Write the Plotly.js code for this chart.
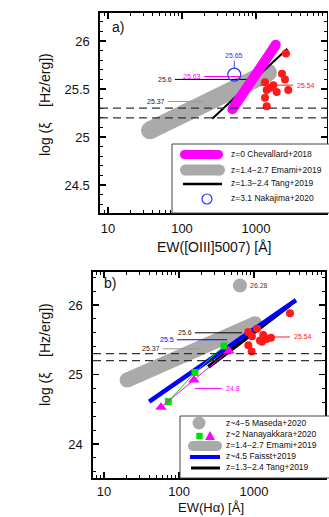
<!DOCTYPE html>
<html><head><meta charset="utf-8">
<script src="https://cdn.plot.ly/plotly-3.0.1.min.js"></script>
<style>body{margin:0;background:#fff}</style></head>
<body><div id="c" style="width:329px;height:517px"></div>
<script>
// ---------- data: panel a (EW([OIII]5007)) ----------
const chevEW = [480, 1850];          const chevXi = [25.29, 25.96];
const emamiA_EW = [37, 1450];        const emamiA_Xi = [25.07, 25.67];
const tangA_EW = [256, 2650];        const tangA_Xi = [25.19, 25.92];
const nakaEW = [509];                const nakaXi = [25.65];
const redA_EW = [2540, 2245, 2465, 1324, 1715, 1546, 1395, 1905, 2730, 1324, 1395];
const redA_Xi = [25.87, 25.66, 25.60, 25.57, 25.54, 25.51, 25.49, 25.47, 25.49, 25.41, 25.32];
const refLines = [25.3, 25.2];
const labA_text = ['25.6', '25.63', '25.37', '25.54'];
const labA_val  = [25.6, 25.63, 25.37, 25.54];
const labA_from = [80, 198, 65, 1133];
const labA_to   = [755, 608, 192, 3165];
const labA_side = ['left', 'left', 'left', 'right'];
const labA_line = ['#000000', '#ff00ff', '#999999', '#ff2020'];
const labA_col  = ['#222222', '#ff00ff', '#222222', '#ff2020'];
const nakaLabel = '25.65';
// ---------- data: panel b (EW(Halpha)) ----------
const masedaEW = [650];              const masedaXi = [26.28];
const emamiB_EW = [20.3, 1030];      const emamiB_Xi = [24.92, 25.73];
const faisstEW = [40, 3630];         const faisstXi = [24.61, 26.07];
const tangB_EW = [246, 3020];        const tangB_Xi = [25.11, 26.0];
const nanaSqEW = [72, 163, 398];     const nanaSqXi = [24.61, 25.03, 25.41];
const nanaTriEW = [57.5, 158, 464];  const nanaTriXi = [24.53, 24.92, 25.34];
const redB_EW = [3020, 1096, 840, 940, 1330, 1202, 1476, 1686, 840, 931, 1278];
const redB_Xi = [25.88, 25.66, 25.61, 25.55, 25.57, 25.49, 25.51, 25.53, 25.42, 25.33, 25.47];
const labB_text = ['25.6', '25.5', '25.37', '25.54', '24.8'];
const labB_val  = [25.6, 25.5, 25.37, 25.54, 24.8];
const labB_from = [163, 94, 61, 1490, 163];
const labB_to   = [692, 437, 190, 3020, 374];
const labB_side = ['left', 'left', 'left', 'right', 'right'];
const labB_line = ['#000000', '#0000ff', '#999999', '#ff2020', '#ff00ff'];
const labB_col  = ['#222222', '#0000ff', '#222222', '#ff2020', '#ff00ff'];
const masedaLabel = '26.28';
// ---------- ticks ----------
const xTickVals = [10, 100, 1000];
const xTickText = ['10', '100', '1000'];
const yA_TickVals = [24.5, 25, 25.5, 26];
const yA_TickText = ['24.5', '25', '25.5', '26'];
const yB_TickVals = [24, 25, 26];
const yB_TickText = ['24', '25', '26'];
const legA = ['z=0 Chevallard+2018', 'z=1.4\u22122.7 Emami+2019', 'z=1.3\u22122.4 Tang+2019', 'z=3.1 Nakajima+2020'];
const legB = ['z~4\u22125 Maseda+2020', 'z~2 Nanayakkara+2020', 'z=1.4\u22122.7 Emami+2019', 'z~4.5 Faisst+2019', 'z=1.3\u22122.4 Tang+2019'];

const W = 329, H = 517;
const px = v => v / W, py = v => 1 - v / H;
const minorX = [];
for (let d = 1; d <= 1000; d *= 10) for (let k = 2; k <= 9; k++) minorX.push(k * d);

const MAG = '#ff00ff', GRAY = '#aaaaaa', RED = '#ff1a1a', BLUE = '#0000ff', GREEN = '#00e000';
const traces = [];
function tr(o, xa, ya) { o.xaxis = xa; o.yaxis = ya; o.hoverinfo = 'skip'; o.showlegend = false; traces.push(o); }

// panel a
tr({x: emamiA_EW, y: emamiA_Xi, mode: 'lines+markers', line: {color: GRAY, width: 18}, marker: {color: GRAY, size: 18}}, 'x', 'y');
for (let i = 0; i < labA_val.length; i++)
  tr({x: [labA_from[i], labA_to[i]], y: [labA_val[i], labA_val[i]], mode: 'lines', line: {color: labA_line[i], width: 1}}, 'x', 'y');
tr({x: tangA_EW, y: tangA_Xi, mode: 'lines', line: {color: '#000', width: 2}}, 'x', 'y');
tr({x: chevEW, y: chevXi, mode: 'lines+markers', line: {color: MAG, width: 10}, marker: {color: MAG, size: 10}}, 'x', 'y');
tr({x: [nakaEW[0], nakaEW[0]], y: [nakaXi[0] + 0.065, nakaXi[0] + 0.145], mode: 'lines', line: {color: '#4040ff', width: 1}}, 'x', 'y');
tr({x: nakaEW, y: nakaXi, mode: 'markers', marker: {symbol: 'circle-open', color: '#3030ff', size: 13, line: {width: 1.2}}}, 'x', 'y');
tr({x: redA_EW, y: redA_Xi, mode: 'markers', marker: {color: RED, size: 8}}, 'x', 'y');

// panel b
tr({x: emamiB_EW, y: emamiB_Xi, mode: 'lines+markers', line: {color: GRAY, width: 15}, marker: {color: GRAY, size: 15}}, 'x2', 'y2');
for (let i = 0; i < labB_val.length; i++)
  tr({x: [labB_from[i], labB_to[i]], y: [labB_val[i], labB_val[i]], mode: 'lines', line: {color: labB_line[i], width: 1}}, 'x2', 'y2');
tr({x: tangB_EW, y: tangB_Xi, mode: 'lines', line: {color: '#000', width: 4}}, 'x2', 'y2');
tr({x: faisstEW, y: faisstXi, mode: 'lines', line: {color: BLUE, width: 4.5}}, 'x2', 'y2');
tr({x: nanaSqEW, y: nanaSqXi, mode: 'lines+markers', line: {color: GREEN, width: 1}, marker: {symbol: 'square', color: GREEN, size: 7}}, 'x2', 'y2');
tr({x: nanaTriEW, y: nanaTriXi, mode: 'lines+markers', line: {color: MAG, width: 1}, marker: {symbol: 'triangle-up', color: MAG, size: 10}}, 'x2', 'y2');
tr({x: redB_EW, y: redB_Xi, mode: 'markers', marker: {color: RED, size: 8}}, 'x2', 'y2');
tr({x: masedaEW, y: masedaXi, mode: 'markers', marker: {color: GRAY, size: 14}}, 'x2', 'y2');

const shapes = [];
for (const v of refLines) {
  shapes.push({type: 'line', xref: 'x domain', yref: 'y', x0: 0, x1: 1, y0: v, y1: v, line: {color: '#333', width: 1.3, dash: '8px,5px'}});
  shapes.push({type: 'line', xref: 'x2 domain', yref: 'y2', x0: 0, x1: 1, y0: v, y1: v, line: {color: '#333', width: 1.3, dash: '8px,5px'}});
}
// legend helpers (pixel positions)
function box(x0, y0, x1, y1) { shapes.push({type: 'rect', xref: 'paper', yref: 'paper', x0: px(x0), x1: px(x1), y0: py(y1), y1: py(y0), fillcolor: '#fff', line: {color: '#444', width: 1}, layer: 'above'}); }
function seg(x0, x1, y, w, c) { shapes.push({type: 'line', xref: 'paper', yref: 'paper', x0: px(x0), x1: px(x1), y0: py(y), y1: py(y), line: {color: c, width: w}, layer: 'above'}); }
function dot(x, y, r, c, open) {
  shapes.push({type: 'circle', xref: 'paper', yref: 'paper', xsizemode: 'pixel', ysizemode: 'pixel', xanchor: px(x), yanchor: py(y), x0: -r, x1: r, y0: -r, y1: r,
    fillcolor: open ? 'rgba(0,0,0,0)' : c, line: {color: c, width: open ? 1.2 : 0}, layer: 'above'});
}
function sq(x, y, r, c) { shapes.push({type: 'rect', xref: 'paper', yref: 'paper', xsizemode: 'pixel', ysizemode: 'pixel', xanchor: px(x), yanchor: py(y), x0: -r, x1: r, y0: -r, y1: r, fillcolor: c, line: {width: 0}, layer: 'above'}); }
function tri(x, y, r, c) { shapes.push({type: 'path', xref: 'paper', yref: 'paper', xsizemode: 'pixel', ysizemode: 'pixel', xanchor: px(x), yanchor: py(y), path: `M 0,${r} L ${r},${-r * 0.8} L ${-r},${-r * 0.8} Z`, fillcolor: c, line: {width: 0}, layer: 'above'}); }
function band(x0, x1, y, w, c) { seg(x0 + w / 2, x1 - w / 2, y, w, c); dot(x0 + w / 2, y, w / 2, c); dot(x1 - w / 2, y, w / 2, c); }

// legend a
box(172, 144, 340, 213);
band(180, 223, 154.5, 9, MAG);
band(180, 225, 170, 11, GRAY);
seg(183, 222, 184, 2.5, '#000');
dot(207, 199, 5, '#3030ff', true);
// legend b
box(180, 416, 340, 478);
dot(199, 423, 6.5, GRAY);
sq(199.5, 436, 3.2, GREEN);
tri(210, 436, 5, MAG);
band(188, 222, 446, 10, GRAY);
seg(190, 220, 457, 4, BLUE);
seg(191, 220, 468, 3, '#000');

const annotations = [];
function lab(texts, vals, from, to, side, cols, xr, yr) {
  for (let i = 0; i < texts.length; i++) {
    const left = side[i] === 'left';
    annotations.push({xref: xr, yref: yr, x: Math.log10(left ? from[i] : to[i]), y: vals[i], text: texts[i], showarrow: false,
      xanchor: left ? 'right' : 'left', yanchor: 'middle', xshift: left ? -1 : 2, font: {size: 7, color: cols[i]}});
  }
}
lab(labA_text, labA_val, labA_from, labA_to, labA_side, labA_col, 'x', 'y');
lab(labB_text, labB_val, labB_from, labB_to, labB_side, labB_col, 'x2', 'y2');
annotations.push({xref: 'x', yref: 'y', x: Math.log10(nakaEW[0]), y: nakaXi[0] + 0.145, text: nakaLabel, showarrow: false, xanchor: 'center', yanchor: 'bottom', font: {size: 7, color: '#3030ff'}});
annotations.push({xref: 'x2', yref: 'y2', x: Math.log10(masedaEW[0]), y: masedaXi[0], text: masedaLabel, showarrow: false, xanchor: 'left', yanchor: 'middle', xshift: 8, font: {size: 7, color: '#444'}});
function txt(x, y, t, size, anchor, angle) { annotations.push({xref: 'paper', yref: 'paper', x: px(x), y: py(y), text: t, showarrow: false, xanchor: anchor || 'center', yanchor: 'middle', textangle: angle || 0, font: {size: size, color: '#111'}}); }
legA.forEach((t, i) => txt(229, [154, 170, 183, 198][i], t, 8.5, 'left'));
legB.forEach((t, i) => txt(224, [423, 434, 445, 456, 467][i], t, 8.5, 'left'));
txt(118, 27, 'a)', 14);
txt(110, 283, 'b)', 14);
const yTitle = 'log (\u03be\u00a0\u00a0\u00a0\u00a0[Hz/erg])';
txt(45, 105, yTitle, 14, 'center', -90);
txt(45, 355, yTitle, 14, 'center', -90);
txt(214, 247, 'EW([OIII]5007) [\u00c5]', 14);
annotations.push({xref: 'paper', yref: 'paper', x: px(211), y: 0, yshift: 0, text: 'EW(H\u03b1) [\u00c5]', showarrow: false, xanchor: 'center', yanchor: 'bottom', font: {size: 13, color: '#111'}});

function xax(dom, rng, so) {
  return {type: 'log', domain: dom, range: rng, tickmode: 'array', tickvals: xTickVals, ticktext: xTickText,
    ticks: 'inside', ticklen: 6, tickwidth: 1.2, tickcolor: '#000', showline: true, linecolor: '#000', linewidth: 1.6, mirror: 'allticks',
    showgrid: false, zeroline: false, ticklabelstandoff: so, tickfont: {size: 13, color: '#111'},
    minor: {tickmode: 'array', tickvals: minorX, ticks: 'inside', ticklen: 3, tickwidth: 1, tickcolor: '#000', showgrid: false}};
}
function yax(dom, rng, tv, tt, md) {
  return {domain: dom, range: rng, tickmode: 'array', tickvals: tv, ticktext: tt,
    ticks: 'inside', ticklen: 6, tickwidth: 1.2, tickcolor: '#000', showline: true, linecolor: '#000', linewidth: 1.6, mirror: 'allticks',
    showgrid: false, zeroline: false, ticklabelstandoff: 6, tickfont: {size: 13, color: '#111'},
    minor: {tickmode: 'linear', tick0: 0, dtick: md, ticks: 'inside', ticklen: 3, tickwidth: 1, tickcolor: '#000', showgrid: false}};
}
const layout = {
  width: W, height: H, margin: {l: 0, r: 0, t: 0, b: 0}, paper_bgcolor: '#fff', plot_bgcolor: '#fff',
  font: {family: 'Liberation Sans, Arial, sans-serif', color: '#111'}, showlegend: false,
  xaxis: xax([100 / W, 326.5 / W], [0.892, 3.953], 3),
  yaxis: yax([py(213), py(13)], [24.208, 26.292], yA_TickVals, yA_TickText, 0.1),
  xaxis2: Object.assign(xax([93 / W, 325 / W], [0.853, 3.947], 1), {anchor: 'y2'}),
  yaxis2: Object.assign(yax([py(478), py(272)], [23.511, 26.475], yB_TickVals, yB_TickText, 0.2), {anchor: 'x2'}),
  shapes, annotations
};
layout.xaxis.anchor = 'y'; layout.yaxis.anchor = 'x';
Plotly.newPlot('c', traces, layout, {staticPlot: true, displayModeBar: false});
</script></body></html>
